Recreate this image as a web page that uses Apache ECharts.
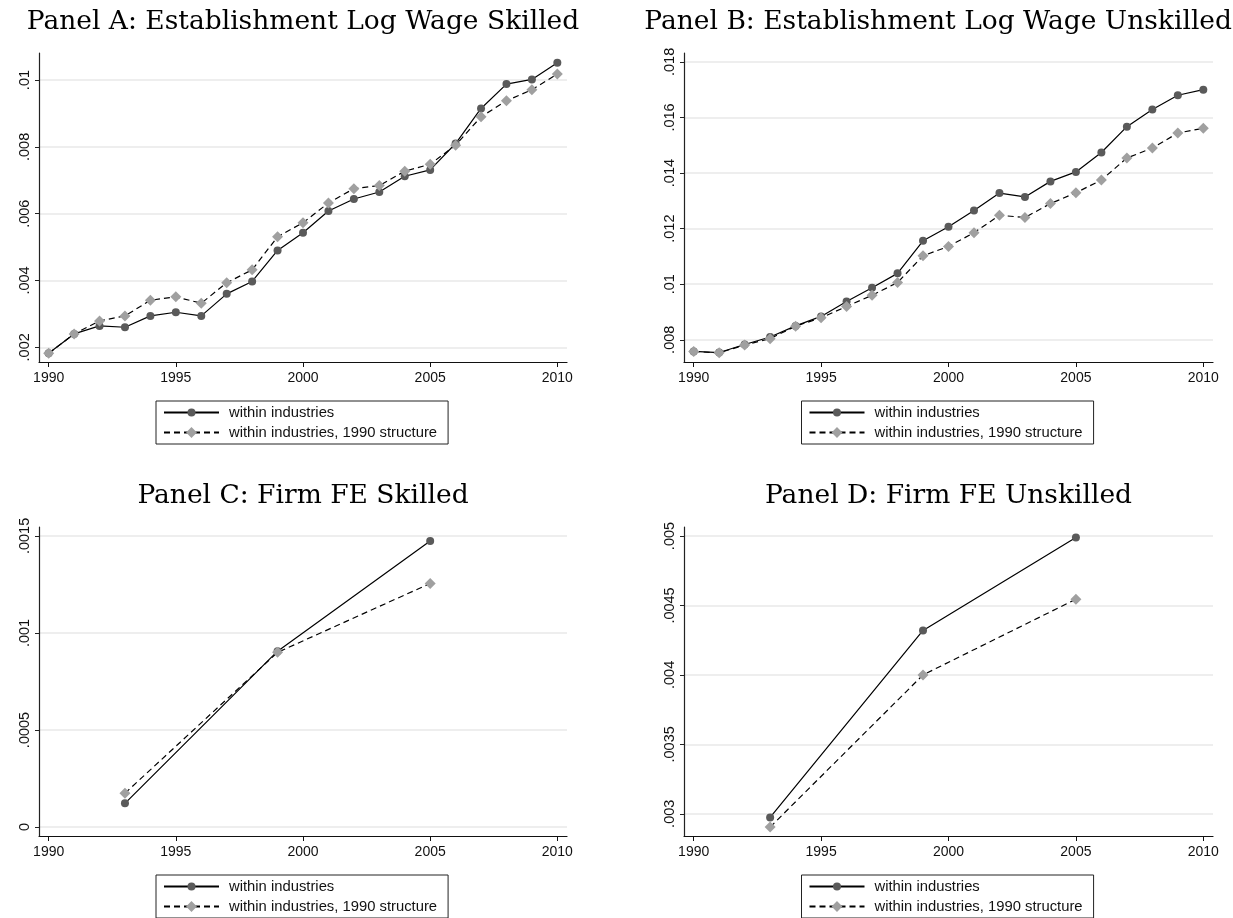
<!DOCTYPE html>
<html>
<head>
<meta charset="utf-8">
<title>Establishment log wage and firm FE panels</title>
<script src="https://cdn.jsdelivr.net/npm/echarts@6/dist/echarts.min.js"></script>
<style>
  html, body { margin: 0; padding: 0; background: #fff; }
  #chart { width: 1233px; height: 918px; }
</style>
</head>
<body>
<div id="chart"></div>
<script>
// years on the x axis
var years = [1990, 1991, 1992, 1993, 1994, 1995, 1996, 1997, 1998, 1999, 2000,
             2001, 2002, 2003, 2004, 2005, 2006, 2007, 2008, 2009, 2010];
var feYears = [1993, 1999, 2005];
var yearTicks = [1990, 1995, 2000, 2005, 2010];

// Panel A: establishment log wage, skilled
var skilledWithin = [0.00182, 0.0024, 0.00264, 0.0026, 0.00294, 0.00305, 0.00294, 0.0036, 0.00397, 0.0049, 0.00543,
                     0.00608, 0.00644, 0.00665, 0.00712, 0.00731, 0.0081, 0.00915, 0.00988, 0.01002, 0.01052];
var skilled1990 = [0.00182, 0.0024, 0.00279, 0.00294, 0.00341, 0.00351, 0.00332, 0.00393, 0.00432, 0.00531, 0.00573,
                   0.00632, 0.00675, 0.00684, 0.00727, 0.00748, 0.00805, 0.0089, 0.00938, 0.00971, 0.01018];

// Panel B: establishment log wage, unskilled
var unskilledWithin = [0.00758, 0.00754, 0.00783, 0.0081, 0.0085, 0.00884, 0.00938, 0.00987, 0.01039, 0.01156, 0.01207,
                       0.01265, 0.01328, 0.01314, 0.0137, 0.01404, 0.01474, 0.01567, 0.01629, 0.0168, 0.017];
var unskilled1990 = [0.00758, 0.00753, 0.00781, 0.00804, 0.00849, 0.00879, 0.0092, 0.0096, 0.01006, 0.01102, 0.01136,
                     0.01185, 0.01248, 0.0124, 0.0129, 0.01329, 0.01375, 0.01454, 0.0149, 0.01544, 0.01561];

// Panel C / D: firm fixed effects
var feSkilledWithin = [0.000122, 0.000906, 0.001474];
var feSkilled1990 = [0.000174, 0.0009, 0.001255];
var feUnskilledWithin = [0.002974, 0.00432, 0.00499];
var feUnskilled1990 = [0.002904, 0.004, 0.004545];

// y tick labels
var ticksA = [0.002, 0.004, 0.006, 0.008, 0.01];
var ticksB = [0.008, 0.01, 0.012, 0.014, 0.016, 0.018];
var ticksC = [0, 0.0005, 0.001, 0.0015];
var ticksD = [0.003, 0.0035, 0.004, 0.0045, 0.005];

var panelTitles = [
  'Panel A: Establishment Log Wage Skilled',
  'Panel B: Establishment Log Wage Unskilled',
  'Panel C: Firm FE Skilled',
  'Panel D: Firm FE Unskilled'
];
var seriesNames = ['within industries', 'within industries, 1990 structure'];

function pairs(xs, ys) {
  return xs.map(function (x, i) { return [x, ys[i]]; });
}

// stata style: .002 instead of 0.002
function fmtTick(v) {
  if (v === 0) return '0';
  return String(+v.toPrecision(6)).replace(/^0\./, '.');
}

var panels = [
  { x: years, a: skilledWithin, b: skilled1990, ticks: ticksA, yMin: 0.00156, yMax: 0.01081,
    left: 39, top: 53, width: 528, height: 309 },
  { x: years, a: unskilledWithin, b: unskilled1990, ticks: ticksB, yMin: 0.0072, yMax: 0.01832,
    left: 684, top: 53, width: 529, height: 309, titleRight: true },
  { x: feYears, a: feSkilledWithin, b: feSkilled1990, ticks: ticksC, yMin: -0.0000463, yMax: 0.001546,
    left: 39, top: 527, width: 528, height: 309 },
  { x: feYears, a: feUnskilledWithin, b: feUnskilled1990, ticks: ticksD, yMin: 0.00284, yMax: 0.005065,
    left: 684, top: 527, width: 529, height: 309 }
];

var sans = 'Liberation Sans, Arial, Helvetica, sans-serif';
var option = {
  animation: false,
  backgroundColor: '#fff',
  title: [], grid: [], xAxis: [], yAxis: [], legend: [], series: []
};

panels.forEach(function (p, i) {
  var cx = p.left + p.width / 2;
  var title = {
    text: panelTitles[i],
    top: p.top - 44,
    padding: 0,
    textStyle: { fontFamily: 'DejaVu Serif', fontSize: 26.5, fontWeight: 'normal', color: '#000' }
  };
  if (p.titleRight) {
    // too wide to center over the plot, pushed against the right edge
    title.right = 1;
  } else {
    title.left = cx;
    title.textAlign = 'center';
  }
  option.title.push(title);
  option.grid.push({
    left: p.left, top: p.top, width: p.width, height: p.height,
    containLabel: false, outerBoundsMode: 'none'
  });
  option.xAxis.push({
    type: 'value', gridIndex: i, min: 1989.62, max: 2010.38,
    axisLine: { show: true, onZero: false, lineStyle: { color: '#111', width: 1.2 } },
    axisTick: { show: true, length: 5, customValues: yearTicks, lineStyle: { color: '#111' } },
    axisLabel: { customValues: yearTicks, margin: 9, fontFamily: sans, fontSize: 14, color: '#111',
                 formatter: function (v) { return String(v); } },
    splitLine: { show: false }
  });
  option.yAxis.push({
    type: 'value', gridIndex: i, min: p.yMin, max: p.yMax,
    axisLine: { show: true, onZero: false, lineStyle: { color: '#222', width: 1.2 } },
    axisTick: { show: true, length: 4, customValues: p.ticks, lineStyle: { color: '#222' } },
    axisLabel: { customValues: p.ticks, rotate: 90, margin: 7, fontFamily: sans, fontSize: 14.5,
                 color: '#111', formatter: fmtTick },
    splitLine: { show: true, lineStyle: { color: '#e8e8e8', width: 1.5 } }
  });
  option.legend.push({
    orient: 'vertical',
    left: cx - 147, top: p.top + p.height + 39,
    padding: [4, 11, 4, 7],
    itemWidth: 55, itemHeight: 10, itemGap: 5,
    borderColor: '#222', borderWidth: 1,
    selectedMode: false,
    textStyle: { fontFamily: sans, fontSize: 14.8, color: '#111', padding: [0, 0, 0, 5] },
    data: [
      { name: seriesNames[0] },
      { name: seriesNames[1], itemStyle: { borderColor: '#a0a0a0', borderWidth: 2 } }
    ]
  });
  option.series.push({
    name: seriesNames[0], type: 'line', xAxisIndex: i, yAxisIndex: i,
    data: pairs(p.x, p.a),
    symbol: 'circle', symbolSize: 8,
    itemStyle: { color: '#5a5a5a' },
    lineStyle: { color: '#000', width: 1.2, type: 'solid' },
    silent: true
  });
  option.series.push({
    name: seriesNames[1], type: 'line', xAxisIndex: i, yAxisIndex: i,
    data: pairs(p.x, p.b),
    symbol: 'diamond', symbolSize: 11,
    itemStyle: { color: '#a0a0a0' },
    lineStyle: { color: '#000', width: 1.2, type: [6, 4] },
    silent: true
  });
});

var chart = echarts.init(document.getElementById('chart'), null, { renderer: 'canvas' });
chart.setOption(option);
window.addEventListener('resize', chart.resize);
</script>
</body>
</html>
